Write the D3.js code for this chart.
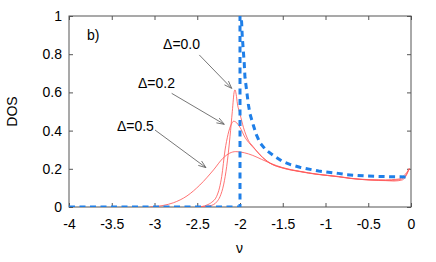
<!DOCTYPE html>
<html><head><meta charset="utf-8">
<script src="https://cdn.jsdelivr.net/npm/d3@7"></script>
<style>
html,body{margin:0;padding:0;background:#fff;}
svg text{font-family:"Liberation Sans",Arial,Helvetica,sans-serif;}
</style></head>
<body>
<svg id="chart" width="436" height="262"></svg>
<script>
// ---- data ----
const xTickValues = [-4, -3.5, -3, -2.5, -2, -1.5, -1, -0.5, 0];
const xTickLabels = ["-4", "-3.5", "-3", "-2.5", "-2", "-1.5", "-1", "-0.5", "0"];
const yTickValues = [0, 0.2, 0.4, 0.6, 0.8, 1];
const yTickLabels = ["0", "0.2", "0.4", "0.6", "0.8", "1"];

// exact Δ=0 DOS (blue dashed)
const exactNu  = [-4, -2.0, -2.0, -1.985, -1.98, -1.973, -1.961, -1.95, -1.942, -1.922, -1.903, -1.883, -1.844, -1.81, -1.766, -1.70, -1.61, -1.51, -1.41, -1.30, -1.08, -0.85, -0.75, -0.52, -0.28, -0.05];
const exactDos = [0, 0, 1.0, 1.0, 0.958, 0.888, 0.818, 0.749, 0.679, 0.609, 0.539, 0.487, 0.428, 0.38, 0.336, 0.30, 0.27, 0.24, 0.222, 0.208, 0.188, 0.176, 0.169, 0.162, 0.159, 0.157];

// numerical DOS curves (red)
const d00Nu  = [-2.47, -2.40, -2.312, -2.27, -2.234, -2.19, -2.156, -2.117, -2.09, -2.067, -2.058, -2.045, -2.03, -2.0, -1.96, -1.90, -1.85, -1.766, -1.649, -1.494, -1.298, -1.103, -0.85, -0.713, -0.48, -0.284, -0.15, -0.07, -0.02];
const d00Dos = [0, 0.003, 0.012, 0.028, 0.054, 0.12, 0.211, 0.368, 0.50, 0.605, 0.613, 0.59, 0.54, 0.487, 0.417, 0.347, 0.318, 0.272, 0.229, 0.203, 0.185, 0.171, 0.159, 0.150, 0.141, 0.138, 0.142, 0.16, 0.204];

const d02Nu  = [-2.49, -2.39, -2.33, -2.275, -2.24, -2.214, -2.175, -2.14, -2.10, -2.075, -2.05, -2.0, -1.942, -1.883, -1.82, -1.766, -1.649, -1.494, -1.298, -1.103, -0.85, -0.713, -0.48, -0.3, -0.15, -0.08, -0.02];
const d02Dos = [0, 0.01, 0.025, 0.054, 0.10, 0.159, 0.298, 0.38, 0.435, 0.449, 0.445, 0.417, 0.365, 0.33, 0.30, 0.274, 0.23, 0.204, 0.186, 0.172, 0.16, 0.151, 0.143, 0.142, 0.146, 0.165, 0.2];

const d05Nu  = [-3.05, -2.9, -2.78, -2.62, -2.47, -2.31, -2.20, -2.12, -2.05, -1.95, -1.85, -1.75, -1.65, -1.5, -1.3, -1.1, -0.85, -0.7, -0.5, -0.3, -0.2, -0.1, -0.05, -0.02];
const d05Dos = [0, 0.008, 0.022, 0.058, 0.115, 0.194, 0.255, 0.282, 0.29, 0.284, 0.27, 0.25, 0.23, 0.206, 0.187, 0.172, 0.158, 0.149, 0.142, 0.139, 0.136, 0.142, 0.17, 0.2];

// annotations (data coordinates)
const labelTexts = ["Δ=0.0", "Δ=0.2", "Δ=0.5"];
const labelNu    = [-2.90, -3.193, -3.44];
const labelDos   = [0.827, 0.623, 0.398];
const arrowFromNu  = [-2.476, -2.799, -2.994];
const arrowFromDos = [0.796, 0.595, 0.403];
const arrowToNu    = [-2.097, -2.184, -2.398];
const arrowToDos   = [0.621, 0.433, 0.206];

// ---- layout ----
const L = 69, R = 411, T = 16, B = 207;
const svg = d3.select("#chart");
const x = d3.scaleLinear().domain([-4, 0]).range([L, R]);
const y = d3.scaleLinear().domain([0, 1]).range([B, T]);

svg.append("defs").append("clipPath").attr("id", "clip")
  .append("rect").attr("x", L).attr("y", T).attr("width", R - L).attr("height", B - T);

const frameColor = "#555";

// axes (inward ticks on all four sides)
const gx = svg.append("g").attr("transform", `translate(0,${B})`)
  .call(d3.axisBottom(x).tickValues(xTickValues).tickFormat((d, i) => xTickLabels[i]).tickSizeInner(-4).tickSizeOuter(0).tickPadding(12));
const gxt = svg.append("g").attr("transform", `translate(0,${T})`)
  .call(d3.axisTop(x).tickValues(xTickValues).tickFormat("").tickSizeInner(-4).tickSizeOuter(0));
const gy = svg.append("g").attr("transform", `translate(${L},0)`)
  .call(d3.axisLeft(y).tickValues(yTickValues).tickFormat((d, i) => yTickLabels[i]).tickSizeInner(-4).tickSizeOuter(0).tickPadding(7));
const gyr = svg.append("g").attr("transform", `translate(${R},0)`)
  .call(d3.axisRight(y).tickValues(yTickValues).tickFormat("").tickSizeInner(-4).tickSizeOuter(0));
[gx, gxt, gy, gyr].forEach(g => {
  g.select(".domain").remove();
  g.selectAll(".tick line").attr("stroke", frameColor).attr("stroke-width", 1);
  g.selectAll(".tick text").attr("fill", "#000").style("font-size", "14px");
});

// frame
svg.append("rect").attr("x", L).attr("y", T).attr("width", R - L).attr("height", B - T)
  .attr("fill", "none").attr("stroke", frameColor).attr("stroke-width", 1);

// curves
const plot = svg.append("g").attr("clip-path", "url(#clip)");
const lineLin = d3.line().x(d => x(d[0])).y(d => y(d[1]));
const lineSmooth = d3.line().x(d => x(d[0])).y(d => y(d[1])).curve(d3.curveMonotoneX);

const redSeries = [[d05Nu, d05Dos], [d02Nu, d02Dos], [d00Nu, d00Dos]];
redSeries.forEach(([nu, dos]) => {
  plot.append("path").datum(nu.map((v, i) => [v, dos[i]]))
    .attr("d", lineSmooth).attr("fill", "none")
    .attr("stroke", "#ff5a5a").attr("stroke-width", 0.85);
});

plot.append("path").datum(exactNu.map((v, i) => [v, exactDos[i]]))
  .attr("d", lineLin).attr("fill", "none")
  .attr("stroke", "#1f7fe8").attr("stroke-width", 3)
  .attr("stroke-dasharray", "6,4.5");

// annotations
const arrowColor = "#666";
labelTexts.forEach((t, i) => {
  svg.append("text").attr("x", x(labelNu[i])).attr("y", y(labelDos[i]))
    .style("font-size", "14px").attr("fill", "#000").text(t);
  const x1 = x(arrowFromNu[i]), y1 = y(arrowFromDos[i]);
  const x2 = x(arrowToNu[i]), y2 = y(arrowToDos[i]);
  svg.append("line").attr("x1", x1).attr("y1", y1).attr("x2", x2).attr("y2", y2)
    .attr("stroke", arrowColor).attr("stroke-width", 0.9);
  const ang = Math.atan2(y2 - y1, x2 - x1);
  const len = 8, spread = 0.35;
  const pts = [
    [x2 - len * Math.cos(ang - spread), y2 - len * Math.sin(ang - spread)],
    [x2, y2],
    [x2 - len * Math.cos(ang + spread), y2 - len * Math.sin(ang + spread)]
  ];
  svg.append("path").attr("d", d3.line()(pts)).attr("fill", "none")
    .attr("stroke", arrowColor).attr("stroke-width", 0.9);
});

svg.append("text").attr("x", x(-3.79)).attr("y", y(0.874))
  .style("font-size", "14px").text("b)");

// axis titles
svg.append("text").attr("x", (L + R) / 2 - 0.5).attr("y", 253).attr("text-anchor", "middle")
  .style("font-size", "14px").text("ν");
svg.append("text").attr("transform", `translate(17,${(T + B) / 2}) rotate(-90)`)
  .attr("text-anchor", "middle").style("font-size", "14px").text("DOS");
</script>
</body></html>
